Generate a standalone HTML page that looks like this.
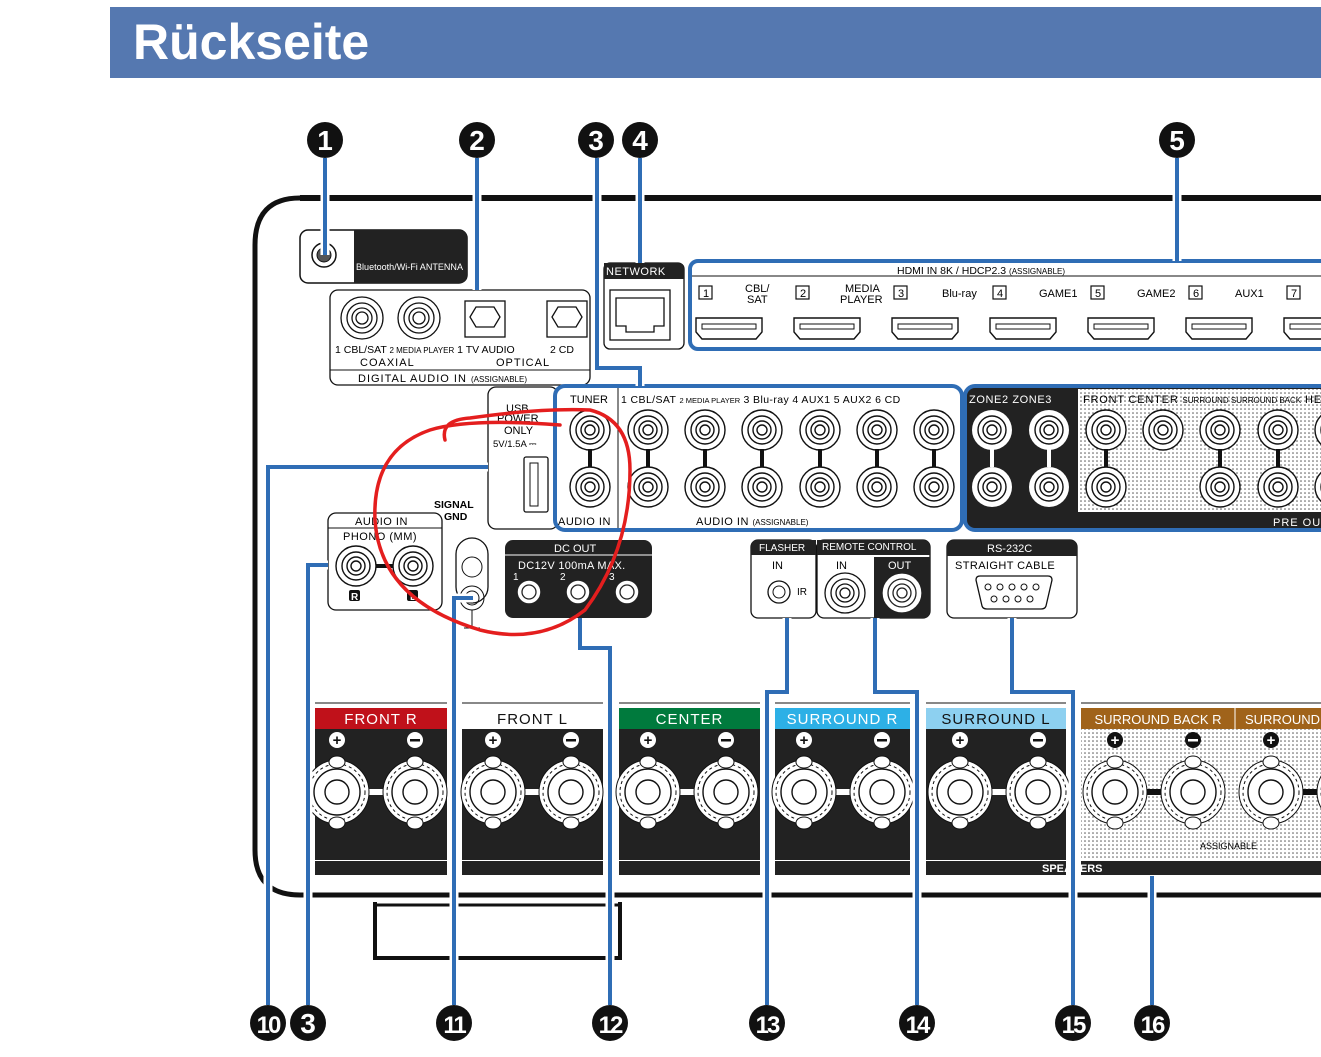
<!DOCTYPE html>
<html><head><meta charset="utf-8"><style>
html,body{margin:0;padding:0;background:#fff}
svg{display:block}
text{font-family:"Liberation Sans",sans-serif}
</style></head><body>
<svg id="s" width="1321" height="1057" viewBox="0 0 1321 1057" xmlns="http://www.w3.org/2000/svg">
<defs>
<pattern id="dots" width="4" height="4" patternUnits="userSpaceOnUse"><rect width="4" height="4" fill="#fff"/><circle cx="1" cy="1" r="0.8" fill="#555"/></pattern>
</defs>
<rect x="110" y="7" width="1211" height="71" fill="#5578b0"/>
<text x="133" y="59" font-size="50" font-weight="bold" fill="#fff">Rückseite</text>

<!-- device outline -->
<path d="M300 198 H1321" stroke="#111" stroke-width="6" fill="none"/>
<path d="M300 198 Q255 198 255 245 V850 Q255 895 300 895 H1321" stroke="#111" stroke-width="5" fill="none"/>
<path d="M375 902 V958 H620 V902" stroke="#111" stroke-width="4" fill="none"/>
<path d="M375 905 H620" stroke="#111" stroke-width="3"/>

<!-- antenna -->
<rect x="300" y="230" width="167" height="53" rx="8" fill="#fff" stroke="#111" stroke-width="1.5"/>
<path d="M354 230 H459 Q467 230 467 238 V275 Q467 283 459 283 H354Z" fill="#222"/>
<text x="356" y="270" font-size="9.5" fill="#fff" textLength="107" lengthAdjust="spacingAndGlyphs">Bluetooth/Wi-Fi ANTENNA</text>
<circle cx="324" cy="255" r="12" fill="#fff" stroke="#111" stroke-width="1.5"/><circle cx="324" cy="255" r="7" fill="#555" stroke="#111"/>

<!-- digital audio in -->
<rect x="330" y="290" width="260" height="95" rx="8" fill="#fff" stroke="#111" stroke-width="1.3"/>
<line x1="330" y1="370" x2="590" y2="370" stroke="#111"/>
<g fill="none" stroke="#111" stroke-width="1.3">
<circle cx="362" cy="318" r="21"/><circle cx="362" cy="318" r="15"/><circle cx="362" cy="318" r="10"/><circle cx="362" cy="318" r="6"/>
<circle cx="419" cy="318" r="21"/><circle cx="419" cy="318" r="15"/><circle cx="419" cy="318" r="10"/><circle cx="419" cy="318" r="6"/>
<rect x="465" y="301" width="40" height="36"/><path d="M470 317 l6-10 h18 l6 10 l-6 10 h-18z"/>
<rect x="547" y="301" width="40" height="36"/><path d="M552 317 l6-10 h18 l6 10 l-6 10 h-18z"/>
</g>
<text x="335" y="353" font-size="10.5">1 CBL/SAT <tspan font-size="8">2 MEDIA PLAYER</tspan> 1 TV AUDIO</text>
<text x="550" y="353" font-size="10.5">2 CD</text>
<text x="360" y="366" font-size="11" letter-spacing="1">COAXIAL</text><text x="496" y="366" font-size="11" letter-spacing="1">OPTICAL</text>
<text x="358" y="382" font-size="11" letter-spacing="1">DIGITAL AUDIO IN <tspan font-size="8" letter-spacing="0">(ASSIGNABLE)</tspan></text>

<!-- network -->
<rect x="604" y="263" width="80" height="86" rx="6" fill="#fff" stroke="#111" stroke-width="1.3"/>
<path d="M604 263 H678 Q684 263 684 269 V279 H604Z" fill="#222"/>
<text x="606" y="275" font-size="11" fill="#fff" letter-spacing="0.5">NETWORK</text>
<rect x="610" y="290" width="60" height="50" fill="none" stroke="#111" stroke-width="1.3"/>
<path d="M616 298 h48 v28 h-10 v6 h-28 v-6 h-10z" fill="none" stroke="#111" stroke-width="1.3"/>

<!-- HDMI -->
<rect x="690" y="261" width="660" height="88" rx="8" fill="#fff" stroke="#2f6db5" stroke-width="4"/>
<line x1="692" y1="276" x2="1321" y2="276" stroke="#111"/>
<text x="897" y="274" font-size="10.5">HDMI IN      8K / HDCP2.3  <tspan font-size="8">(ASSIGNABLE)</tspan></text>
<g font-size="11">
<text x="745" y="292">CBL/</text><text x="747" y="303">SAT</text>
<text x="845" y="292">MEDIA</text><text x="840" y="303">PLAYER</text>
<text x="942" y="297">Blu-ray</text><text x="1039" y="297">GAME1</text><text x="1137" y="297">GAME2</text><text x="1235" y="297">AUX1</text>
</g>
<g id="hd"></g>

<!-- USB -->
<rect x="488" y="387" width="70" height="142" rx="8" fill="#fff" stroke="#111" stroke-width="1.3"/>
<text x="506" y="412" font-size="11">USB</text><text x="497" y="422" font-size="11">POWER</text>
<text x="504" y="434" font-size="11">ONLY</text><text x="493" y="447" font-size="9.5">5V/1.5A ⎓</text>
<rect x="524" y="457" width="24" height="55" rx="2" fill="none" stroke="#111" stroke-width="1.3"/>
<rect x="530" y="463" width="8" height="43" fill="none" stroke="#111"/>

<!-- audio in -->
<rect x="555" y="386" width="407" height="144" rx="10" fill="#fff" stroke="#2f6db5" stroke-width="4"/>
<line x1="618" y1="388" x2="618" y2="528" stroke="#111"/>
<text x="570" y="403" font-size="11">TUNER</text>
<text x="621" y="403" font-size="10.5" letter-spacing="0.4">1 CBL/SAT <tspan font-size="7.5" letter-spacing="0">2 MEDIA PLAYER</tspan> 3 Blu-ray  4 AUX1   5 AUX2    6 CD</text>
<text x="558" y="525" font-size="11" letter-spacing="0.5">AUDIO IN</text>
<text x="696" y="525" font-size="11" letter-spacing="0.5">AUDIO IN <tspan font-size="8" letter-spacing="0">(ASSIGNABLE)</tspan></text>

<!-- zones / pre out -->
<rect x="965" y="386" width="400" height="144" rx="10" fill="#222" stroke="#2f6db5" stroke-width="4"/>
<rect x="1078" y="389" width="243" height="123" fill="url(#dots)"/>
<text x="969" y="403" font-size="11" fill="#fff" letter-spacing="0.6">ZONE2  ZONE3</text>
<text x="1083" y="403" font-size="11" letter-spacing="0.8">FRONT  CENTER <tspan font-size="8" letter-spacing="0">SURROUND   SURROUND BACK</tspan> HE</text>
<text x="1273" y="526" font-size="11" fill="#fff" letter-spacing="1">PRE  OU</text>
<g id="rca"></g>

<!-- phono -->
<rect x="328" y="513" width="114" height="97" rx="8" fill="#fff" stroke="#111" stroke-width="1.3"/>
<line x1="328" y1="528" x2="442" y2="528" stroke="#111"/>
<text x="355" y="525" font-size="11" letter-spacing="0.5">AUDIO IN</text><text x="343" y="540" font-size="11" letter-spacing="0.5">PHONO (MM)</text>
<rect x="349" y="590" width="11" height="11" rx="2" fill="#111"/><rect x="407" y="590" width="11" height="11" rx="2" fill="#111"/>
<text x="351" y="600" font-size="10" font-weight="bold" fill="#fff">R</text><text x="410" y="600" font-size="10" font-weight="bold" fill="#fff">L</text>
<g id="ph"></g>
<text x="434" y="508" font-size="10.5" font-weight="bold">SIGNAL</text><text x="444" y="520" font-size="10.5" font-weight="bold">GND</text>
<rect x="456" y="538" width="32" height="65" rx="16" fill="#fff" stroke="#111" stroke-width="1.3"/>
<circle cx="472" cy="567" r="10" fill="none" stroke="#111"/><circle cx="472" cy="598" r="12" fill="none" stroke="#111"/><circle cx="472" cy="598" r="7" fill="none" stroke="#111"/>
<path d="M472 610 V628 M464 628 h16" stroke="#111"/>

<!-- DC out -->
<rect x="505" y="540" width="147" height="78" rx="8" fill="#222"/>
<line x1="505" y1="555" x2="652" y2="555" stroke="#fff"/>
<text x="554" y="552" font-size="11" fill="#fff">DC OUT</text>
<text x="518" y="569" font-size="11" fill="#fff" letter-spacing="0.3">DC12V 100mA MAX.</text>
<text x="513" y="580" font-size="10" fill="#fff">1</text><text x="560" y="580" font-size="10" fill="#fff">2</text><text x="609" y="580" font-size="10" fill="#fff">3</text>
<g fill="#fff" stroke="#222" stroke-width="1.5"><circle cx="529" cy="592" r="12"/><circle cx="578" cy="592" r="12"/><circle cx="627" cy="592" r="12"/></g>
<g fill="none" stroke="#222" stroke-width="1.3"><circle cx="529" cy="592" r="7"/><circle cx="578" cy="592" r="7"/><circle cx="627" cy="592" r="7"/></g>

<!-- flasher / remote -->
<rect x="751" y="540" width="65" height="78" rx="7" fill="#fff" stroke="#111" stroke-width="1.3"/>
<path d="M751 555 V547 Q751 540 758 540 H816 V555Z" fill="#222"/>
<text x="759" y="551" font-size="10" fill="#fff">FLASHER</text>
<text x="772" y="569" font-size="11">IN</text><text x="797" y="595" font-size="10">IR</text>
<circle cx="779" cy="592" r="11" fill="none" stroke="#111" stroke-width="1.3"/><circle cx="779" cy="592" r="6" fill="none" stroke="#111"/>
<rect x="817" y="540" width="113" height="78" rx="7" fill="#fff" stroke="#111" stroke-width="1.3"/>
<path d="M817 555 V540 H923 Q930 540 930 547 V555Z" fill="#222"/>
<path d="M874 557 H930 V611 Q930 618 923 618 H874Z" fill="#222"/>
<text x="822" y="550" font-size="10" fill="#fff">REMOTE CONTROL</text>
<text x="836" y="569" font-size="11">IN</text><text x="888" y="569" font-size="11" fill="#fff">OUT</text>
<g fill="none" stroke="#111" stroke-width="1.3"><circle cx="845" cy="593" r="20" fill="#fff"/><circle cx="845" cy="593" r="14"/><circle cx="845" cy="593" r="9"/><circle cx="845" cy="593" r="5"/></g>
<g fill="none" stroke="#222" stroke-width="1.3"><circle cx="902" cy="593" r="20" fill="#fff"/><circle cx="902" cy="593" r="14"/><circle cx="902" cy="593" r="9"/><circle cx="902" cy="593" r="5"/></g>

<!-- RS232 -->
<rect x="947" y="540" width="130" height="78" rx="7" fill="#fff" stroke="#111" stroke-width="1.3"/>
<path d="M947 556 V547 Q947 540 954 540 H1070 Q1077 540 1077 547 V556Z" fill="#222"/>
<text x="987" y="552" font-size="11" fill="#fff">RS-232C</text>
<text x="955" y="569" font-size="11" letter-spacing="0.4">STRAIGHT CABLE</text>
<path d="M976 580 Q976 576 980 576 H1048 Q1052 576 1052 580 L1046 606 Q1045 609 1041 609 H987 Q983 609 982 606Z" fill="none" stroke="#111" stroke-width="1.3"/>
<g fill="none" stroke="#111"><circle cx="988" cy="587" r="3"/><circle cx="1000" cy="587" r="3"/><circle cx="1012" cy="587" r="3"/><circle cx="1024" cy="587" r="3"/><circle cx="1036" cy="587" r="3"/><circle cx="994" cy="599" r="3"/><circle cx="1006" cy="599" r="3"/><circle cx="1018" cy="599" r="3"/><circle cx="1030" cy="599" r="3"/></g>

<!-- speakers -->
<g id="spk"></g>
<text x="1042" y="872" font-size="11" font-weight="bold" fill="#fff">SPEAKERS</text>
<text x="1200" y="849" font-size="9">ASSIGNABLE</text>

<!-- blue lines -->
<g id="bl" fill="none" stroke-linejoin="miter"></g>

<!-- red annotation -->
<path d="M445 440 Q440 420 470 418 Q540 408 590 410 Q630 420 630 470 Q630 550 585 610 Q540 645 480 630 Q380 600 375 520 Q372 450 430 430 Q470 418 560 425" fill="none" stroke="#e41e1e" stroke-width="3.5" stroke-linecap="round"/>

<g id="nums"></g>
<script>
const NS="http://www.w3.org/2000/svg";
function el(p,t,a,txt){const e=document.createElementNS(NS,t);for(const k in a)e.setAttribute(k,a[k]);if(txt!=null)e.textContent=txt;document.getElementById(p).appendChild(e);return e;}
const hx=[729,827,925,1023,1121,1219,1317];const hn=["1","2","3","4","5","6","7"];const hlx=[706,803,901,1000,1098,1196,1294];
hx.forEach((x,i)=>{el("hd","rect",{x:hlx[i]-7,y:286,width:13,height:13,fill:"none",stroke:"#111","stroke-width":1.2});
el("hd","text",{x:hlx[i]-3,y:297,"font-size":11},hn[i]);
el("hd","path",{d:`M${x-33} 318 h66 v14 l-6 7 h-54 l-6 -7z`,fill:"none",stroke:"#111","stroke-width":1.4});
el("hd","rect",{x:x-27,y:324,width:54,height:5,fill:"none",stroke:"#111"});});
function rca(x,y,inv,g){g=g||"rca";const s=inv?"#fff":"#111";el(g,"circle",{cx:x,cy:y,r:20,fill:inv?"#222":"#fff",stroke:s,"stroke-width":1.4});
[14,9,5].forEach(r=>el(g,"circle",{cx:x,cy:y,r:r,fill:"none",stroke:s,"stroke-width":1.4}));}
function bar(x,inv){el("rca","rect",{x:x-2,y:449,width:4,height:18,fill:inv?"#fff":"#111"});}
[590,648,705,762,820,877,934].forEach(x=>{rca(x,430);rca(x,487);bar(x);});
[992,1049].forEach(x=>{el("rca","circle",{cx:x,cy:430,r:20,fill:"#fff"});el("rca","circle",{cx:x,cy:487,r:20,fill:"#fff"});
[14,9,5].forEach(r=>{el("rca","circle",{cx:x,cy:430,r:r,fill:"none",stroke:"#111","stroke-width":1.4});el("rca","circle",{cx:x,cy:487,r:r,fill:"none",stroke:"#111","stroke-width":1.4});});bar(x,true);});
[1106,1220,1278,1335].forEach(x=>{rca(x,430);rca(x,487);bar(x);});rca(1163,430);
el("ph","rect",{x:376,y:564,width:17,height:4,fill:"#111"});
rca(356,566,false,"ph");rca(413,566,false,"ph");
const sp=[[315,447,"#c0111a","FRONT R","#fff"],[462,603,"#fff","FRONT L","#111"],[619,760,"#007a3d","CENTER","#fff"],[775,910,"#2db0e6","SURROUND R","#fff"],[926,1066,"#8dd0f0","SURROUND L","#111"],[1081,1235,"#a0631a","SURROUND BACK R","#fff"],[1235,1330,"#a0631a","SURROUND","#fff"]];
sp.forEach(([a,b,c,t,tc],i)=>{
el("spk","line",{x1:a,y1:703,x2:b,y2:703,stroke:"#111"});
el("spk","rect",{x:a,y:708,width:b-a,height:21,fill:c});
el("spk","rect",{x:a,y:729,width:b-a,height:131,fill:i>=5?"url(#dots)":"#222"});
el("spk","rect",{x:a,y:861,width:b-a,height:14,fill:"#222"});
el("spk","text",{x:(a+b)/2,y:724,"font-size":i>=5?13:15,fill:tc,"text-anchor":"middle","letter-spacing":i>=5?0:1},t);});
el("spk","line",{x1:1235,y1:708,x2:1235,y2:729,stroke:"#fff"});
function post(x){const y=792;
el("spk","circle",{cx:x,cy:y,r:32,fill:"#fff",stroke:"#111","stroke-width":1});
el("spk","circle",{cx:x,cy:y,r:28,fill:"none",stroke:"#111","stroke-width":1,"stroke-dasharray":"3 3"});
el("spk","circle",{cx:x,cy:y,r:23,fill:"#fff",stroke:"#111","stroke-width":1.4});
el("spk","circle",{cx:x,cy:y,r:12,fill:"none",stroke:"#111","stroke-width":1.4});
el("spk","ellipse",{cx:x,cy:762,rx:8,ry:6,fill:"#fff",stroke:"#111"});el("spk","ellipse",{cx:x,cy:823,rx:8,ry:6,fill:"#fff",stroke:"#111"});}
[[337,415],[493,571],[648,726],[804,882],[960,1038],[1115,1193],[1271,1349]].forEach(([p,m],i)=>{
el("spk","rect",{x:p+30,y:789,width:m-p-60,height:6,fill:i>=5?"#111":"#fff"});
post(p);post(m);
const f=i>=5?"#111":"#fff",tc=i>=5?"#fff":"#111";
el("spk","circle",{cx:p,cy:740,r:8,fill:f});el("spk","text",{x:p,y:745,"font-size":15,"font-weight":"bold",fill:tc,"text-anchor":"middle"},"+");
el("spk","circle",{cx:m,cy:740,r:8,fill:f});el("spk","rect",{x:m-5,y:739,width:10,height:2.5,fill:tc});});
const L=["M325 158V255","M477 158V290","M597 158V368H640V386","M640 158V263","M1177 158V261",
"M268 1005V467H488","M308 1005V565H328","M454 1005V598H473","M610 1005V648H580V618","M767 1005V692H787V618","M917 1005V692H875V618","M1073 1005V692H1012V618","M1152 1005V876"];
L.forEach(d=>el("bl","path",{d:d,stroke:"#fff","stroke-width":9}));
L.forEach(d=>el("bl","path",{d:d,stroke:"#2f6db5","stroke-width":4}));
[[325,140,"1"],[477,140,"2"],[596,140,"3"],[640,140,"4"],[1177,140,"5"],[268,1023,"10"],[308,1023,"3"],[454,1023,"11"],[610,1023,"12"],[767,1023,"13"],[917,1023,"14"],[1073,1023,"15"],[1152,1023,"16"]].forEach(([x,y,t])=>{
el("nums","circle",{cx:x,cy:y,r:18,fill:"#111"});
el("nums","text",{x:x,y:y+10,"font-size":t.length>1?24:28,"font-weight":"bold",fill:"#fff","text-anchor":"middle","letter-spacing":t.length>1?-2:0},t);});
</script>
</svg>
</body></html>
